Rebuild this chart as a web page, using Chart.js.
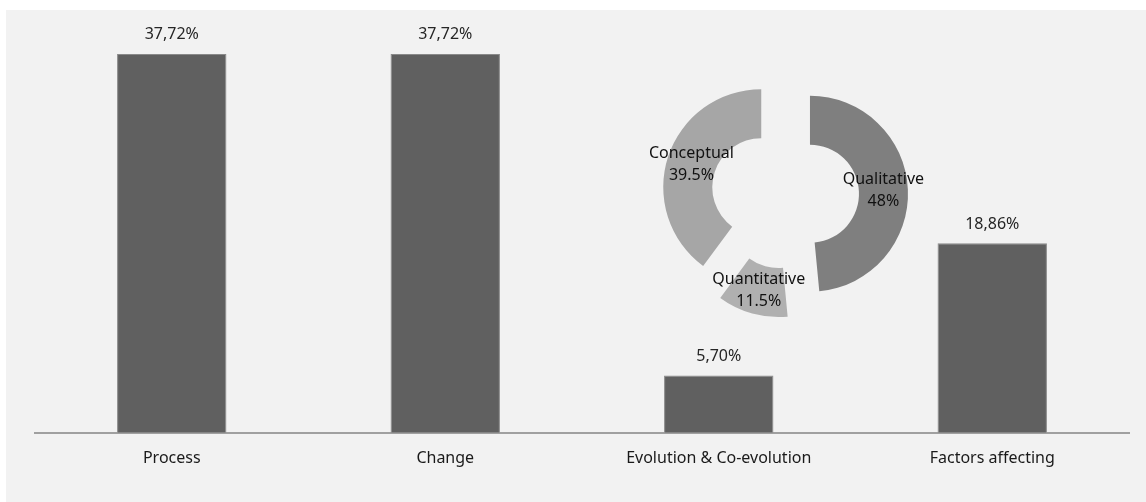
<!DOCTYPE html>
<html>
<head>
<meta charset="utf-8">
<script src="https://cdn.jsdelivr.net/npm/chart.js@4.4.1/dist/chart.umd.min.js"></script>
<style>
  html, body { margin: 0; padding: 0; background: #ffffff; }
  #wrap { position: relative; width: 1146px; height: 502px; overflow: hidden; }
  #panel { position: absolute; left: 6px; top: 10px; right: 0; bottom: 0; background: #f2f2f2; }
  #bars { position: absolute; left: 0; top: 0; }
  #ring { position: absolute; left: 615px; top: 45px; }
</style>
</head>
<body>
<div id="wrap">
  <div id="panel"></div>
  <canvas id="bars" width="1146" height="502"></canvas>
  <canvas id="ring" width="340" height="300"></canvas>
</div>
<script>
const categories = ["Process", "Change", "Evolution & Co-evolution", "Factors affecting"];
const shares = [37.72, 37.72, 5.70, 18.86];

const ringLabels = ["Qualitative", "Quantitative", "Conceptual"];
const ringValues = [48, 11.5, 39.5];

const FONT = "'Noto Sans', 'Open Sans', sans-serif";
const EXPLODE = 25; // px each ring piece is pulled out from the centre

// percentage above each bar, comma as decimal separator
const barValueLabels = {
  id: "barValueLabels",
  afterDatasetsDraw(chart) {
    const ctx = chart.ctx;
    const meta = chart.getDatasetMeta(0);
    ctx.save();
    ctx.font = "16px " + FONT;
    ctx.fillStyle = "#262626";
    ctx.textAlign = "center";
    ctx.textBaseline = "middle";
    meta.data.forEach((bar, i) => {
      const v = chart.data.datasets[0].data[i];
      ctx.fillText(v.toFixed(2).replace(".", ",") + "%", bar.x, bar.y - 19);
    });
    ctx.restore();
  },
};

// shift every arc outwards along its mid angle (arc.options.offset also
// grows the radii in v4, so move the centres directly instead)
const explodeArcs = {
  id: "explodeArcs",
  afterDatasetsUpdate(chart) {
    chart.getDatasetMeta(0).data.forEach((arc) => {
      const mid = (arc.startAngle + arc.endAngle) / 2;
      arc.x += Math.cos(mid) * EXPLODE;
      arc.y += Math.sin(mid) * EXPLODE;
    });
  },
};

// name and share in the middle of every ring piece
const ringLabelsPlugin = {
  id: "ringLabels",
  afterDatasetsDraw(chart) {
    const ctx = chart.ctx;
    const meta = chart.getDatasetMeta(0);
    ctx.save();
    ctx.font = "16px " + FONT;
    ctx.fillStyle = "#111111";
    ctx.textAlign = "center";
    ctx.textBaseline = "middle";
    meta.data.forEach((arc, i) => {
      const mid = (arc.startAngle + arc.endAngle) / 2;
      const r = (arc.innerRadius + arc.outerRadius) / 2;
      const cx = arc.x + Math.cos(mid) * r;
      const cy = arc.y + Math.sin(mid) * r;
      ctx.fillText(chart.data.labels[i], cx, cy - 11);
      ctx.fillText(chart.data.datasets[0].data[i] + "%", cx, cy + 11);
    });
    ctx.restore();
  },
};

new Chart(document.getElementById("bars"), {
  type: "bar",
  data: {
    labels: categories,
    datasets: [{
      data: shares,
      backgroundColor: "#606060",
      borderColor: "#8a8a8a",
      borderWidth: 1,
      categoryPercentage: 1,
      barPercentage: 0.4,
    }],
  },
  options: {
    responsive: false,
    animation: false,
    layout: { padding: { left: 35, right: 17, top: 31, bottom: 18 } },
    plugins: { legend: { display: false }, tooltip: { enabled: false } },
    scales: {
      x: {
        grid: { display: false, drawTicks: false },
        border: { color: "#a0a0a0", width: 2 },
        ticks: { color: "#1a1a1a", padding: 16, font: { family: FONT, size: 16 } },
      },
      y: {
        display: false,
        min: 0,
        max: 40,
      },
    },
  },
  plugins: [barValueLabels],
});

new Chart(document.getElementById("ring"), {
  type: "doughnut",
  data: {
    labels: ringLabels,
    datasets: [{
      data: ringValues,
      backgroundColor: ["#7f7f7f", "#b0b0b0", "#a6a6a6"],
      borderWidth: 0,
    }],
  },
  options: {
    responsive: false,
    animation: false,
    radius: 98,
    cutout: "50%",
    plugins: { legend: { display: false }, tooltip: { enabled: false } },
  },
  plugins: [explodeArcs, ringLabelsPlugin],
});
</script>
</body>
</html>
